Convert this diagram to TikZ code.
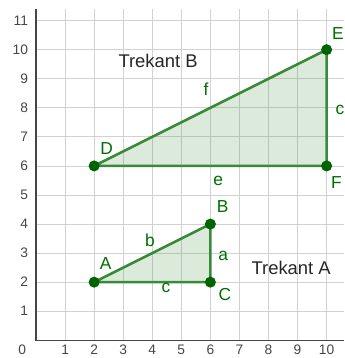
\documentclass[tikz,border=0pt]{standalone}
\usepackage{fontspec}
\setmainfont{Liberation Sans}
\usepackage{xcolor}
\usepackage{tikz}
\usetikzlibrary{positioning,calc}

\definecolor{ggline}{RGB}{56,138,56}
\definecolor{ggpoint}{RGB}{0,100,0}
\definecolor{ggtext}{RGB}{0,110,0}
\definecolor{gggrid}{RGB}{210,210,210}
\definecolor{ggaxis}{RGB}{70,70,70}

\begin{document}
\begin{tikzpicture}[
    gridline/.style={gggrid,line width=0.8pt},
    axisline/.style={ggaxis,line width=1.1pt},
    ticklabel/.style={ggaxis,font=\fontsize{13.5}{15}\selectfont,inner sep=0pt},
    tri/.style={draw=ggline,fill=ggline,fill opacity=0.18,line width=2.5pt,line join=round},
    pt/.style={circle,fill=ggpoint,inner sep=0pt,minimum size=0.38cm},
    ptlabel/.style={ggtext,font=\fontsize{17}{19}\selectfont,inner sep=0pt},
    title/.style={black!85,font=\fontsize{18}{20}\selectfont,inner sep=0pt}
  ]
            \useasboundingbox (-1.24,-0.61) rectangle (10.6,11.71);

            % Grid and axes
            \draw[gridline] (0,0) grid (10.6,11.4);
            \draw[axisline] (0,11.4) -- (0,0) -- (10.6,0);
            \foreach \x in {1,...,10}
                \node[ticklabel] at (\x,-0.33) {\x};
            \foreach \y in {1,...,11}
                \node[ticklabel,anchor=east] at (-0.27,\y) {\y};
            \node[ticklabel] at (-0.48,-0.33) {0};

            % Corners
            \coordinate (A) at (2,2);
            \coordinate (B) at (6,4);
            \coordinate (C) at (6,2);
            \coordinate (D) at (2,6);
            \coordinate (E) at (10,10);
            \coordinate (F) at (10,6);

            % Triangles
            \filldraw[tri] (A) -- (B) -- (C) -- cycle;
            \filldraw[tri] (D) -- (E) -- (F) -- cycle;

            % Points
            \node[pt] (pA) at (A) {};
            \node[pt] (pB) at (B) {};
            \node[pt] (pC) at (C) {};
            \node[pt] (pD) at (D) {};
            \node[pt] (pE) at (E) {};
            \node[pt] (pF) at (F) {};

            % Point labels
            \node[ptlabel] at (2.40,2.65) {A};
            \node[ptlabel] at (6.42,4.60) {B};
            \node[ptlabel] at (6.50,1.56) {C};
            \node[ptlabel] at (2.43,6.61) {D};
            \node[ptlabel] at (10.39,10.57) {E};
            \node[ptlabel] at (10.34,5.43) {F};

            % Side labels
            \node[ptlabel] at (6.44,2.90) {a};
            \node[ptlabel] at (3.92,3.43) {b};
            \node[ptlabel] at (4.47,1.79) {c};
            \node[ptlabel] at (10.46,7.93) {c};
            \node[ptlabel] at (6.27,5.48) {e};
            \node[ptlabel] at (5.85,8.65) {f};

            % Names
            \node[title] at (4.20,9.62) {Trekant B};
            \node[title] at (8.78,2.48) {Trekant A};
        \end{tikzpicture}
\end{document}
